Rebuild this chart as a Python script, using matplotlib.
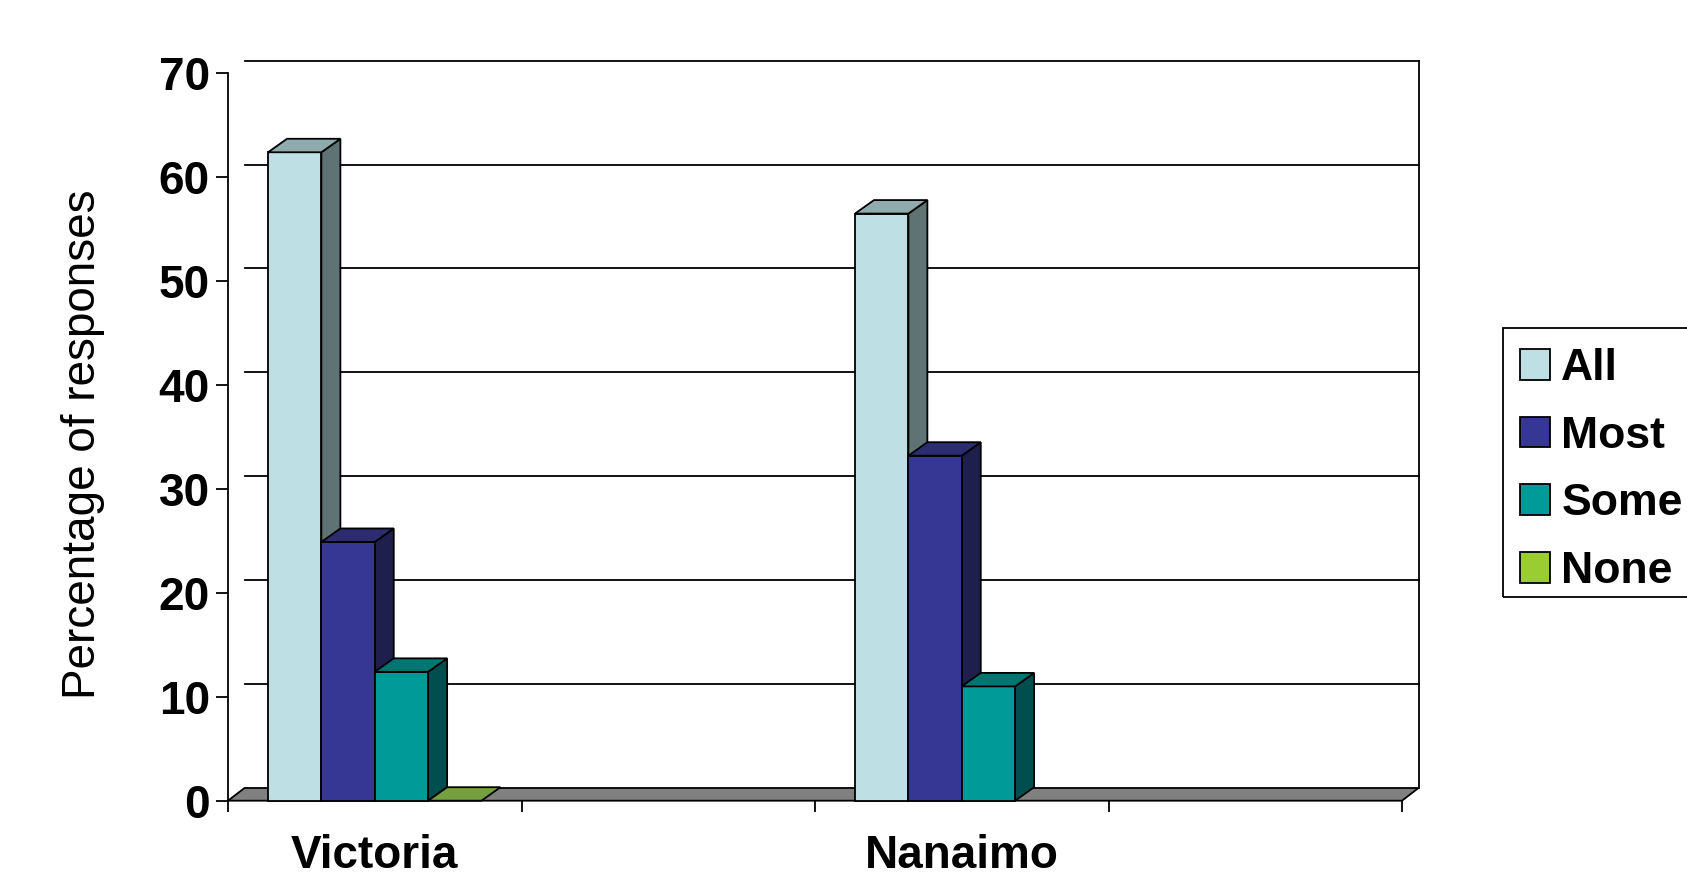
import matplotlib
matplotlib.use('Agg')
import matplotlib.pyplot as plt
from matplotlib.patches import Polygon, Patch, Rectangle
import numpy as np

# Data (percentage of responses)
categories = ["Victoria", "", "Nanaimo", ""]
series = ["All", "Most", "Some", "None"]
all_vals = [62.4, np.nan, 56.5, np.nan]
most_vals = [24.9, np.nan, 33.2, np.nan]
some_vals = [12.4, np.nan, 11.0, np.nan]
none_vals = [0.0, np.nan, np.nan, np.nan]
yticks = [0, 10, 20, 30, 40, 50, 60, 70]

# front / side / top shades of each series
front_cols = ["#bee0e4", "#363795", "#009b98", "#9acd32"]
side_cols = ["#5f7374", "#1f1f4d", "#004f4e", "#4d6b21"]
top_cols = ["#8fabad", "#2c2c70", "#007673", "#76a03f"]

W, H = 1687, 875
fig = plt.figure(figsize=(W / 100, H / 100), dpi=100)
plt.rcParams['font.family'] = ['Liberation Sans', 'DejaVu Sans']

# axis box: front plane of the 3D plot, in pixels
x0, x1, y0, y1 = 228, 1402, 800.7, 73.3
ax = fig.add_axes([x0 / W, 1 - y0 / H, (x1 - x0) / W, (y0 - y1) / H])
ax.set_xlim(0, len(categories))
ax.set_ylim(0, 70)
ax.patch.set_visible(False)
for s in ['top', 'right', 'bottom']:
    ax.spines[s].set_visible(False)
ax.spines['left'].set_linewidth(1.3)

# pixel -> data conversion for depth offsets
ux = len(categories) / (x1 - x0)
uy = 70 / (y0 - y1)
wall_dx, wall_dy = 16.5 * ux, 12.7 * uy
bar_dx, bar_dy = 19 * ux, 13.5 * uy

lw = 1.3
ncat = len(categories)

# back wall: gridlines, top edge and right edge
for v in yticks[1:]:
    ax.plot([wall_dx, ncat + wall_dx], [v + wall_dy, v + wall_dy], color='black',
            lw=lw, clip_on=False, zorder=1)
ax.plot([ncat + wall_dx, ncat + wall_dx], [wall_dy, 70 + wall_dy], color='black',
        lw=lw, clip_on=False, zorder=1)

# floor
floor = Polygon([(0, 0), (ncat, 0), (ncat + wall_dx, wall_dy), (wall_dx, wall_dy)],
                closed=True, facecolor='#808080', edgecolor='black', lw=lw,
                clip_on=False, zorder=2)
ax.add_patch(floor)

# 3D style bars
width = 1 / (len(series) + 1.5)
values = [all_vals, most_vals, some_vals, none_vals]
z = 3
for i in range(ncat):
    for j, vals in enumerate(values):
        v = vals[i]
        if np.isnan(v):
            continue
        left = i + (0.75 + j) * width
        right = left + width
        front = Polygon([(left, 0), (right, 0), (right, v), (left, v)],
                        facecolor=front_cols[j], edgecolor='black', lw=lw,
                        clip_on=False, zorder=z)
        side = Polygon([(right, 0), (right + bar_dx, bar_dy), (right + bar_dx, v + bar_dy), (right, v)],
                       facecolor=side_cols[j], edgecolor='black', lw=lw,
                       clip_on=False, zorder=z)
        top = Polygon([(left, v), (right, v), (right + bar_dx, v + bar_dy), (left + bar_dx, v + bar_dy)],
                      facecolor=top_cols[j], edgecolor='black', lw=lw,
                      clip_on=False, zorder=z)
        if v > 0:
            ax.add_patch(side)
            ax.add_patch(front)
        ax.add_patch(top)
        z += 1

# y axis
ax.set_yticks(yticks)
ax.set_yticklabels([str(t) for t in yticks], fontsize=33, fontweight='bold')
ax.tick_params(axis='y', direction='out', length=9, width=lw, pad=4)

# x axis: category boundaries as ticks, labels in between
ax.set_xticks(range(ncat + 1))
ax.set_xticklabels([])
ax.set_xticks([i + 0.5 for i in range(ncat)], minor=True)
ax.set_xticklabels(categories, minor=True, fontsize=33, fontweight='bold')
ax.tick_params(axis='x', which='major', direction='out', length=8, width=lw)
ax.tick_params(axis='x', which='minor', length=0, pad=24)

fig.text(83 / W, 1 - 444 / H, "Percentage of responses", rotation=90,
         ha='center', va='center', fontsize=33)

# legend (box drawn separately, it runs off the right edge)
handles = [Patch(facecolor=front_cols[k], edgecolor='black', lw=lw) for k in range(len(series))]
leg = fig.legend(handles, series, loc='upper left', bbox_to_anchor=(1500 / W, 1 - 328 / H),
                 prop={'size': 32, 'weight': 'bold'}, frameon=False,
                 handlelength=0.68, handleheight=0.68, handletextpad=0.25,
                 labelspacing=0.6, borderpad=0.45, borderaxespad=0)
box = Rectangle((1503 / W, 1 - 597 / H), 300 / W, 269 / H, transform=fig.transFigure,
                facecolor='none', edgecolor='black', lw=lw)
fig.patches.append(box)

fig.savefig('out.png', dpi=100)
